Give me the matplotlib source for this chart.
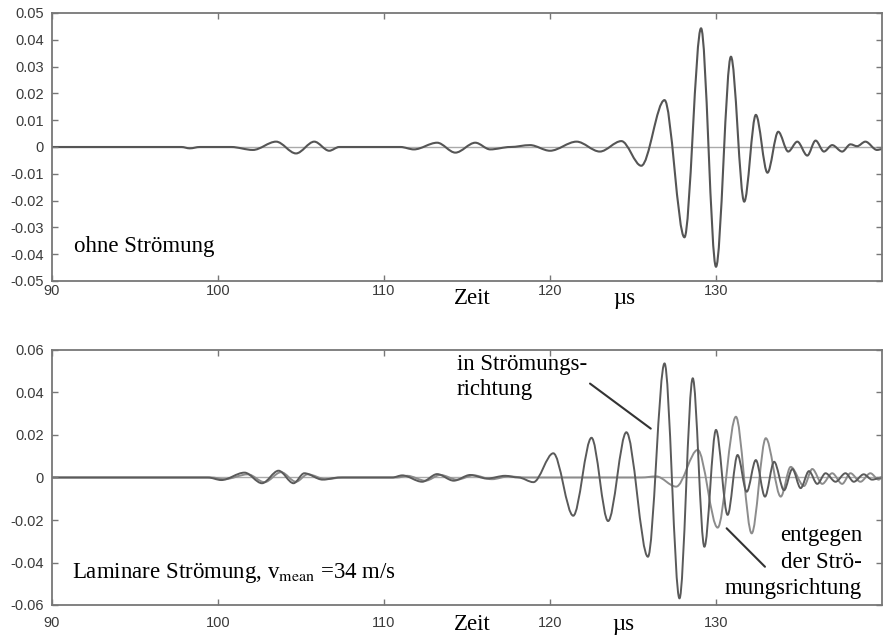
import matplotlib
matplotlib.use('Agg')
import matplotlib.pyplot as plt
from matplotlib.path import Path
from matplotlib.patches import PathPatch

# Zeit in µs, Spitzen und Taeler der Signale
ohne_t = [90.0, 97.8, 98.3, 98.9, 100.8, 102.1, 103.5, 104.7, 105.8, 106.7,
          107.3, 111.0, 111.8, 113.2, 114.3, 115.5, 116.4, 117.6, 118.8, 120.0,
          121.6, 123.0, 124.3, 125.5, 126.9, 128.1, 129.1, 130.0, 130.9, 131.7,
          132.4, 133.1, 133.75, 134.35, 134.9, 135.5, 136.0, 136.5, 137.0, 137.6,
          138.1, 138.5, 139.0, 139.7, 140.0]
ohne_v = [0, 0, -0.0005, 0, 0, -0.0011, 0.002, -0.0024, 0.002, -0.0014,
          0, 0, -0.0009, 0.0016, -0.0021, 0.0016, -0.0009, 0, 0.0007, -0.0014,
          0.002, -0.0017, 0.0022, -0.007, 0.0175, -0.0337, 0.0443, -0.0447, 0.0337, -0.0204,
          0.012, -0.0096, 0.0057, -0.0017, 0.002, -0.0032, 0.0024, -0.0017, 0.0007, -0.0017,
          0.001, 0.0003, 0.002, -0.0011, -0.0008]

# in Stroemungsrichtung
mit_t = [90.0, 99.4, 100.2, 101.6, 102.65, 103.65, 104.55, 105.2, 106.3, 107.3,
         110.5, 111.1, 112.3, 113.2, 114.2, 115.2, 116.2, 117.3, 118.1, 119.0,
         120.2, 121.4, 122.5, 123.5, 124.6, 125.9, 126.9, 127.8, 128.6, 129.3,
         130.0, 130.7, 131.3, 131.85, 132.4, 132.95, 133.5, 134.1, 134.6, 135.1,
         135.6, 136.1, 136.6, 137.2, 137.8, 138.3, 138.9, 139.4, 140.0]
mit_v = [0, 0, -0.0012, 0.0023, -0.0027, 0.0032, -0.0027, 0.002, -0.001, 0,
         0, 0.001, -0.002, 0.0016, -0.0015, 0.0012, -0.0005, 0.0008, 0, -0.0022,
         0.0114, -0.018, 0.0187, -0.0205, 0.0213, -0.0373, 0.0537, -0.0569, 0.0467, -0.0326,
         0.0224, -0.0176, 0.0106, -0.0067, 0.0082, -0.009, 0.0074, -0.006, 0.004, -0.005,
         0.003, -0.003, 0.002, -0.002, 0.002, -0.002, 0.0015, -0.001, 0]

# entgegen der Stroemungsrichtung
gegen_t = [90.0, 99.6, 100.4, 101.8, 102.8, 103.8, 104.7, 105.4, 106.5, 107.5,
           110.8, 111.4, 112.5, 113.4, 114.4, 115.4, 116.5, 117.5, 118.5, 125.5,
           126.4, 127.6, 128.9, 130.1, 131.2, 132.15, 133.0, 133.9, 134.5, 135.3,
           135.8, 136.4, 137.0, 137.6, 138.1, 138.7, 139.3, 139.8, 140.0]
gegen_v = [0, 0, -0.0008, 0.0015, -0.0022, 0.0025, -0.002, 0.0015, -0.0008, 0,
           0, 0.0008, -0.0015, 0.0012, -0.001, 0.001, -0.0008, 0.0005, 0, 0,
           0.0005, -0.0043, 0.013, -0.0236, 0.0286, -0.0263, 0.0185, -0.009, 0.005, -0.004,
           0.004, -0.003, 0.002, -0.003, 0.002, -0.002, 0.002, -0.001, 0]

x_ticks = [90, 100, 110, 120, 130]
y_ticks_oben = [0.05, 0.04, 0.03, 0.02, 0.01, 0, -0.01, -0.02, -0.03, -0.04, -0.05]
y_labels_oben = ['0.05', '0.04', '0.03', '0.02', '0.01', '0', '-0.01', '-0.02', '-0.03', '-0.04', '-0.05']
y_ticks_unten = [0.06, 0.04, 0.02, 0, -0.02, -0.04, -0.06]
y_labels_unten = ['0.06', '0.04', '0.02', '0', '-0.02', '-0.04', '-0.06']

plt.rcParams['mathtext.fontset'] = 'stix'
SERIF = 'Liberation Serif'
W, H = 884, 636


def welle(ax, t, v, color, lw):
    # glatte Kurve durch die Extrema (waagrechte Tangenten)
    verts = [(t[0], v[0])]
    codes = [Path.MOVETO]
    for i in range(1, len(t)):
        d = (t[i] - t[i - 1]) / 3.0
        verts += [(t[i - 1] + d, v[i - 1]), (t[i] - d, v[i]), (t[i], v[i])]
        codes += [Path.CURVE4] * 3
    ax.add_patch(PathPatch(Path(verts, codes), fill=False, edgecolor=color,
                           lw=lw, joinstyle='round', capstyle='round'))


def achse(ax, yt, yl, pad_x):
    ax.set_xlim(90, 140)
    ax.set_ylim(yt[-1], yt[0])
    ax.set_xticks(x_ticks)
    ax.set_xticklabels([str(x) for x in x_ticks])
    ax.set_yticks(yt)
    ax.set_yticklabels(yl)
    ax.tick_params(direction='in', top=True, right=True, length=4, width=1,
                   color='#777777', labelcolor='#3a3a3a', labelsize=10.5)
    ax.tick_params(axis='x', pad=pad_x)
    ax.tick_params(axis='y', pad=6)
    for lab in ax.get_xticklabels() + ax.get_yticklabels():
        lab.set_family('Liberation Sans')
    for s in ax.spines.values():
        s.set_color('#777777')
        s.set_linewidth(1.3)
    ax.axhline(0, color='#aaaaaa', lw=1.0, zorder=1)


fig = plt.figure(figsize=(W / 100, H / 100), dpi=100)
ax1 = fig.add_axes([52 / W, 1 - 281 / H, 830 / W, 268 / H])
ax2 = fig.add_axes([52 / W, 1 - 605 / H, 830 / W, 255 / H])

achse(ax1, y_ticks_oben, y_labels_oben, 2)
achse(ax2, y_ticks_unten, y_labels_unten, 8)

welle(ax1, ohne_t, ohne_v, '#555555', 1.5)
welle(ax2, gegen_t, gegen_v, '#8c8c8c', 1.4)
welle(ax2, mit_t, mit_v, '#5a5a5a', 1.4)

# Hinweislinien
ax2.annotate('', xy=(126.07, 0.0230), xytext=(122.41, 0.0442),
             arrowprops=dict(arrowstyle='-', color='#333333', lw=1.5, shrinkA=0, shrinkB=0))
ax2.annotate('', xy=(132.95, -0.0420), xytext=(130.64, -0.0239),
             arrowprops=dict(arrowstyle='-', color='#333333', lw=1.5, shrinkA=0, shrinkB=0))


def txt(x, y, s, ha='left'):
    fig.text(x / W, 1 - y / H, s, ha=ha, va='baseline', family=SERIF,
             fontsize=16.5, color='black')


txt(74, 252, 'ohne Strömung')
txt(454, 304, 'Zeit')
txt(613, 304, 'µs')
txt(454, 630, 'Zeit')
txt(612, 630, 'µs')
txt(72, 578, r'Laminare Strömung, v$_{\mathrm{mean}}$ =34 m/s')
txt(457, 370, 'in Strömungs-')
txt(457, 395, 'richtung')
txt(862, 541, 'entgegen', ha='right')
txt(862, 568, 'der Strö-', ha='right')
txt(862, 594, 'mungsrichtung', ha='right')

fig.savefig('out.png', dpi=100, facecolor='white')
